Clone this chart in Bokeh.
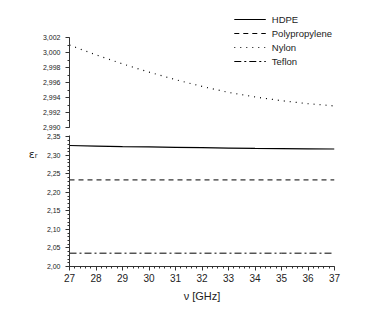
from bokeh.plotting import figure
from bokeh.layouts import column
from bokeh.models import (Range1d, FixedTicker, SingleIntervalTicker, Legend, LegendItem,
                          LinearAxis, CustomJSTickFormatter, ColumnDataSource)
from bokeh.embed import file_html
from bokeh.resources import INLINE

# ---- data ----
freq = [27, 28, 29, 30, 31, 32, 33, 34, 35, 36, 37]
hdpe = [2.327, 2.3255, 2.324, 2.323, 2.322, 2.321, 2.320, 2.319, 2.3185, 2.318, 2.3175]
polypropylene = [2.234] * 11
nylon = [3.0010, 2.9997, 2.9985, 2.9974, 2.9964, 2.9955, 2.9947, 2.9941, 2.9936, 2.9932, 2.9929]
teflon = [2.036] * 11

series_names = ["HDPE", "Polypropylene", "Nylon", "Teflon"]
upper_ticks = [2.990, 2.992, 2.994, 2.996, 2.998, 3.000, 3.002]
upper_minor = [2.990, 2.991, 2.992, 2.993, 2.994, 2.995, 2.996, 2.997, 2.998, 2.999, 3.000, 3.001, 3.002]
lower_ticks = [2.00, 2.05, 2.10, 2.15, 2.20, 2.25, 2.30, 2.35]
lower_minor = [round(2.00 + 0.01 * i, 2) for i in range(36)]

src = ColumnDataSource(dict(freq=freq, hdpe=hdpe, pp=polypropylene, nylon=nylon, teflon=teflon))

FONT = "Liberation Sans"
TXT = "#222222"

styles = [
    ("hdpe", dict(line_width=1.2, line_dash="solid")),
    ("pp", dict(line_width=1.0, line_dash="5 4")),
    ("nylon", dict(line_width=1.2, line_dash="1 5")),
    ("teflon", dict(line_width=1.0, line_dash="7 3 2 3")),
]

def style_axis(ax):
    ax.axis_line_color = "#333333"
    ax.major_tick_line_color = "#333333"
    ax.minor_tick_line_color = "#333333"
    ax.major_tick_in = 0
    ax.major_tick_out = 4
    ax.minor_tick_in = 0
    ax.minor_tick_out = 2
    ax.major_label_text_font = FONT
    ax.major_label_text_color = TXT

x_range = Range1d(27, 37)

# upper panel (Nylon)
p1 = figure(frame_width=265, frame_height=118, min_border_left=69, min_border_right=44,
            min_border_top=10, min_border_bottom=4, x_range=x_range,
            y_range=Range1d(2.9899, 3.0056), output_backend="svg", toolbar_location=None)
# lower panel
p2 = figure(frame_width=265, frame_height=131, min_border_left=69, min_border_right=44,
            min_border_top=3, x_range=x_range,
            y_range=Range1d(2.00, 2.354), output_backend="svg", toolbar_location=None)

renderers1 = []
for p in (p1, p2):
    p.outline_line_color = None
    p.grid.visible = False
    p.background_fill_color = "white"
    p.border_fill_color = "white"
    for col, st in styles:
        r = p.line("freq", col, source=src, line_color="black", **st)
        if p is p1:
            renderers1.append(r)

p1.xaxis.visible = False
style_axis(p1.yaxis[0])
p1.yaxis.ticker = FixedTicker(ticks=upper_ticks, minor_ticks=upper_minor)
p1.yaxis.bounds = (2.990, 3.002)
p1.yaxis.formatter = CustomJSTickFormatter(code="return tick.toFixed(3).replace('.', ',');")
p1.yaxis.major_label_text_font_size = "7px"

style_axis(p2.yaxis[0])
style_axis(p2.xaxis[0])
p2.yaxis.ticker = FixedTicker(ticks=lower_ticks, minor_ticks=lower_minor)
p2.yaxis.formatter = CustomJSTickFormatter(code="return tick.toFixed(2).replace('.', ',');")
p2.yaxis.major_label_text_font_size = "7px"
p2.xaxis.ticker = SingleIntervalTicker(interval=1, num_minor_ticks=5)
p2.xaxis.formatter = CustomJSTickFormatter(code="return tick.toFixed(0);")
p2.xaxis.major_label_text_font_size = "10px"
p2.xaxis.major_label_standoff = 3
p2.xaxis.axis_label = "ν [GHz]"
p2.xaxis.axis_label_text_font = FONT
p2.xaxis.axis_label_text_font_style = "normal"
p2.xaxis.axis_label_text_font_size = "11px"
p2.xaxis.axis_label_text_color = TXT
p2.xaxis.axis_label_standoff = 5

# epsilon_r label: tick-less extra axis; trailing blank lines lift it to the 2,30 level
eps_axis = LinearAxis(ticker=FixedTicker(ticks=[]),
                      axis_line_color=None, major_tick_line_color=None,
                      minor_tick_line_color=None, axis_label="εᵣ" + "\n " * 6,
                      axis_label_orientation="horizontal", axis_label_text_font="DejaVu Sans",
                      axis_label_text_font_style="normal", axis_label_text_font_size="11px",
                      axis_label_text_color=TXT, axis_label_standoff=6)
p2.add_layout(eps_axis, "left")

legend = Legend(items=[LegendItem(label=n, renderers=[r]) for n, r in zip(series_names, renderers1)],
                location="top_right", background_fill_alpha=0, border_line_alpha=0,
                label_text_font=FONT, label_text_font_size="9.5px", label_text_color=TXT,
                glyph_width=32, glyph_height=14, label_height=14, spacing=0,
                label_standoff=6, padding=0, margin=2)
p1.add_layout(legend)

layout = column(p1, p2, spacing=0)
open("out.html", "w").write(file_html(layout, INLINE))
